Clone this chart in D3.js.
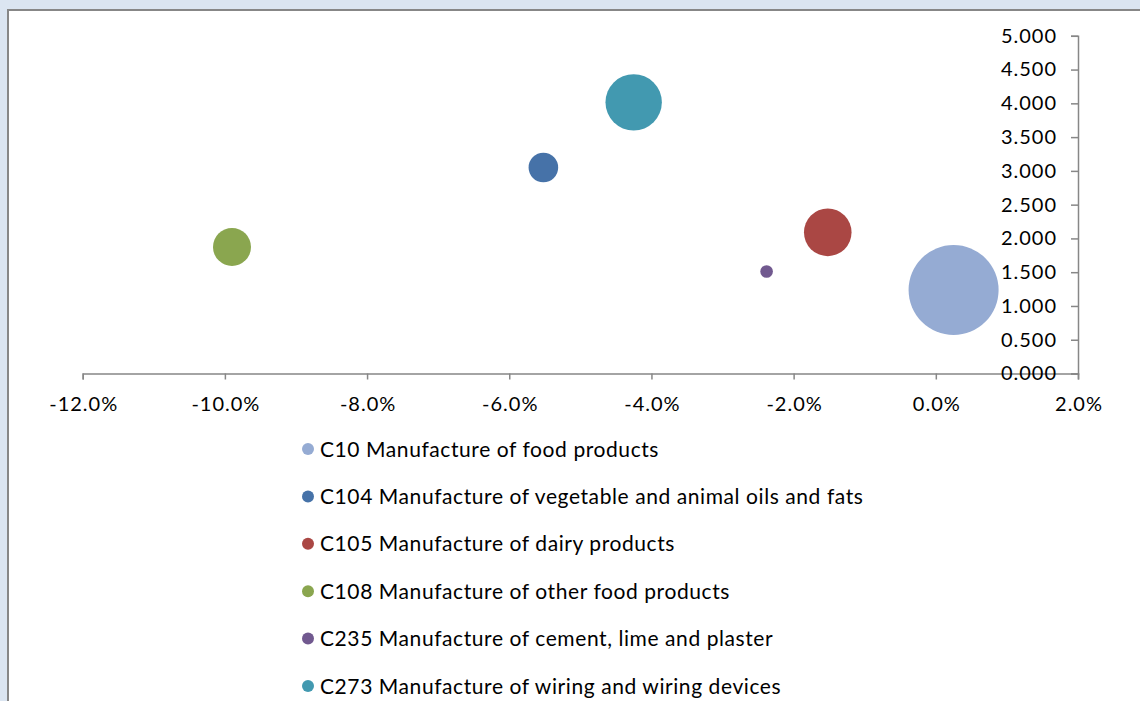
<!DOCTYPE html>
<html>
<head>
<meta charset="utf-8">
<script src="https://cdn.jsdelivr.net/npm/d3@7"></script>
<style>
  html, body { margin: 0; padding: 0; background: #dbe5f1; }
  svg { display: block; }
</style>
</head>
<body>
<svg id="chart" width="1140" height="701"></svg>
<script>
// ---- data ----
const categories = [
  "C10 Manufacture of food products",
  "C104 Manufacture of vegetable and animal oils and fats",
  "C105 Manufacture of dairy products",
  "C108 Manufacture of other food products",
  "C235 Manufacture of cement, lime and plaster",
  "C273 Manufacture of wiring and wiring devices"
];
const xValues = [0.25, -5.52, -1.52, -9.90, -2.38, -4.25];     // % change
const yValues = [1.237, 3.05, 2.09, 1.874, 1.51, 4.015];
const sizeValues = [2025, 219, 566, 361, 40, 795];
const colors = ["#95abd3", "#4672a8", "#aa4744", "#8aa64f", "#71598f", "#4299b0"];
const xTicks = [-12, -10, -8, -6, -4, -2, 0, 2];
const yTicks = [0, 0.5, 1, 1.5, 2, 2.5, 3, 3.5, 4, 4.5, 5];

const svg = d3.select("#chart");
const FONT = "Lato, 'Open Sans', sans-serif";

// panel
svg.append("rect").attr("x", 8).attr("y", 10).attr("width", 1200).attr("height", 800)
  .attr("fill", "#ffffff").attr("stroke", "#878787").attr("stroke-width", 2);

const x = d3.scaleLinear().domain([-12, 2]).range([82.7, 1078]);
const y = d3.scaleLinear().domain([0, 5]).range([373.5, 35.8]);
const r = d3.scaleSqrt().domain([0, d3.max(sizeValues)]).range([0, 45]);

// bubbles (draw largest first)
const data = categories.map((c, i) => ({c, x: xValues[i], y: yValues[i], s: sizeValues[i], col: colors[i]}));
svg.append("g").selectAll("circle")
  .data(data.slice().sort((a, b) => b.s - a.s))
  .join("circle")
  .attr("cx", d => x(d.x)).attr("cy", d => y(d.y)).attr("r", d => r(d.s))
  .attr("fill", d => d.col);

// x axis
const xAxis = d3.axisBottom(x).tickValues(xTicks).tickSize(6).tickPadding(17)
  .tickFormat(d => d3.format(".1f")(d).replace("−", "-") + "%");
const gx = svg.append("g").attr("transform", `translate(0,${y(0)})`).call(xAxis);
gx.select(".domain").attr("stroke", "#878787").attr("stroke-width", 1.5);
gx.selectAll(".tick line").attr("stroke", "#878787").attr("stroke-width", 1.5);
gx.selectAll("text").attr("fill", "#000").attr("dx", "0.5px").style("font-family", FONT)
  .style("font-size", "20px").style("letter-spacing", "1px");

// y axis
const yAxis = d3.axisLeft(y).tickValues(yTicks).tickSize(7).tickPadding(14)
  .tickFormat(d3.format(".3f"));
const gy = svg.append("g").attr("transform", `translate(${x(2)},0)`).call(yAxis);
gy.select(".domain").attr("stroke", "#878787").attr("stroke-width", 1.5);
gy.selectAll(".tick line").attr("stroke", "#878787").attr("stroke-width", 1.5);
gy.selectAll("text").attr("fill", "#000").style("font-family", FONT)
  .style("font-size", "20px").style("letter-spacing", "1px");

// legend
const lg = svg.append("g");
const rows = lg.selectAll("g").data(data).join("g")
  .attr("transform", (d, i) => `translate(308,${449 + i * 47.4})`);
rows.append("circle").attr("r", 6).attr("fill", d => d.col);
rows.append("text").attr("x", 12).attr("dy", "0.36em")
  .style("font-family", FONT).style("font-size", "21px").style("letter-spacing", "0.58px")
  .attr("fill", "#000")
  .text(d => d.c);
</script>
</body>
</html>
